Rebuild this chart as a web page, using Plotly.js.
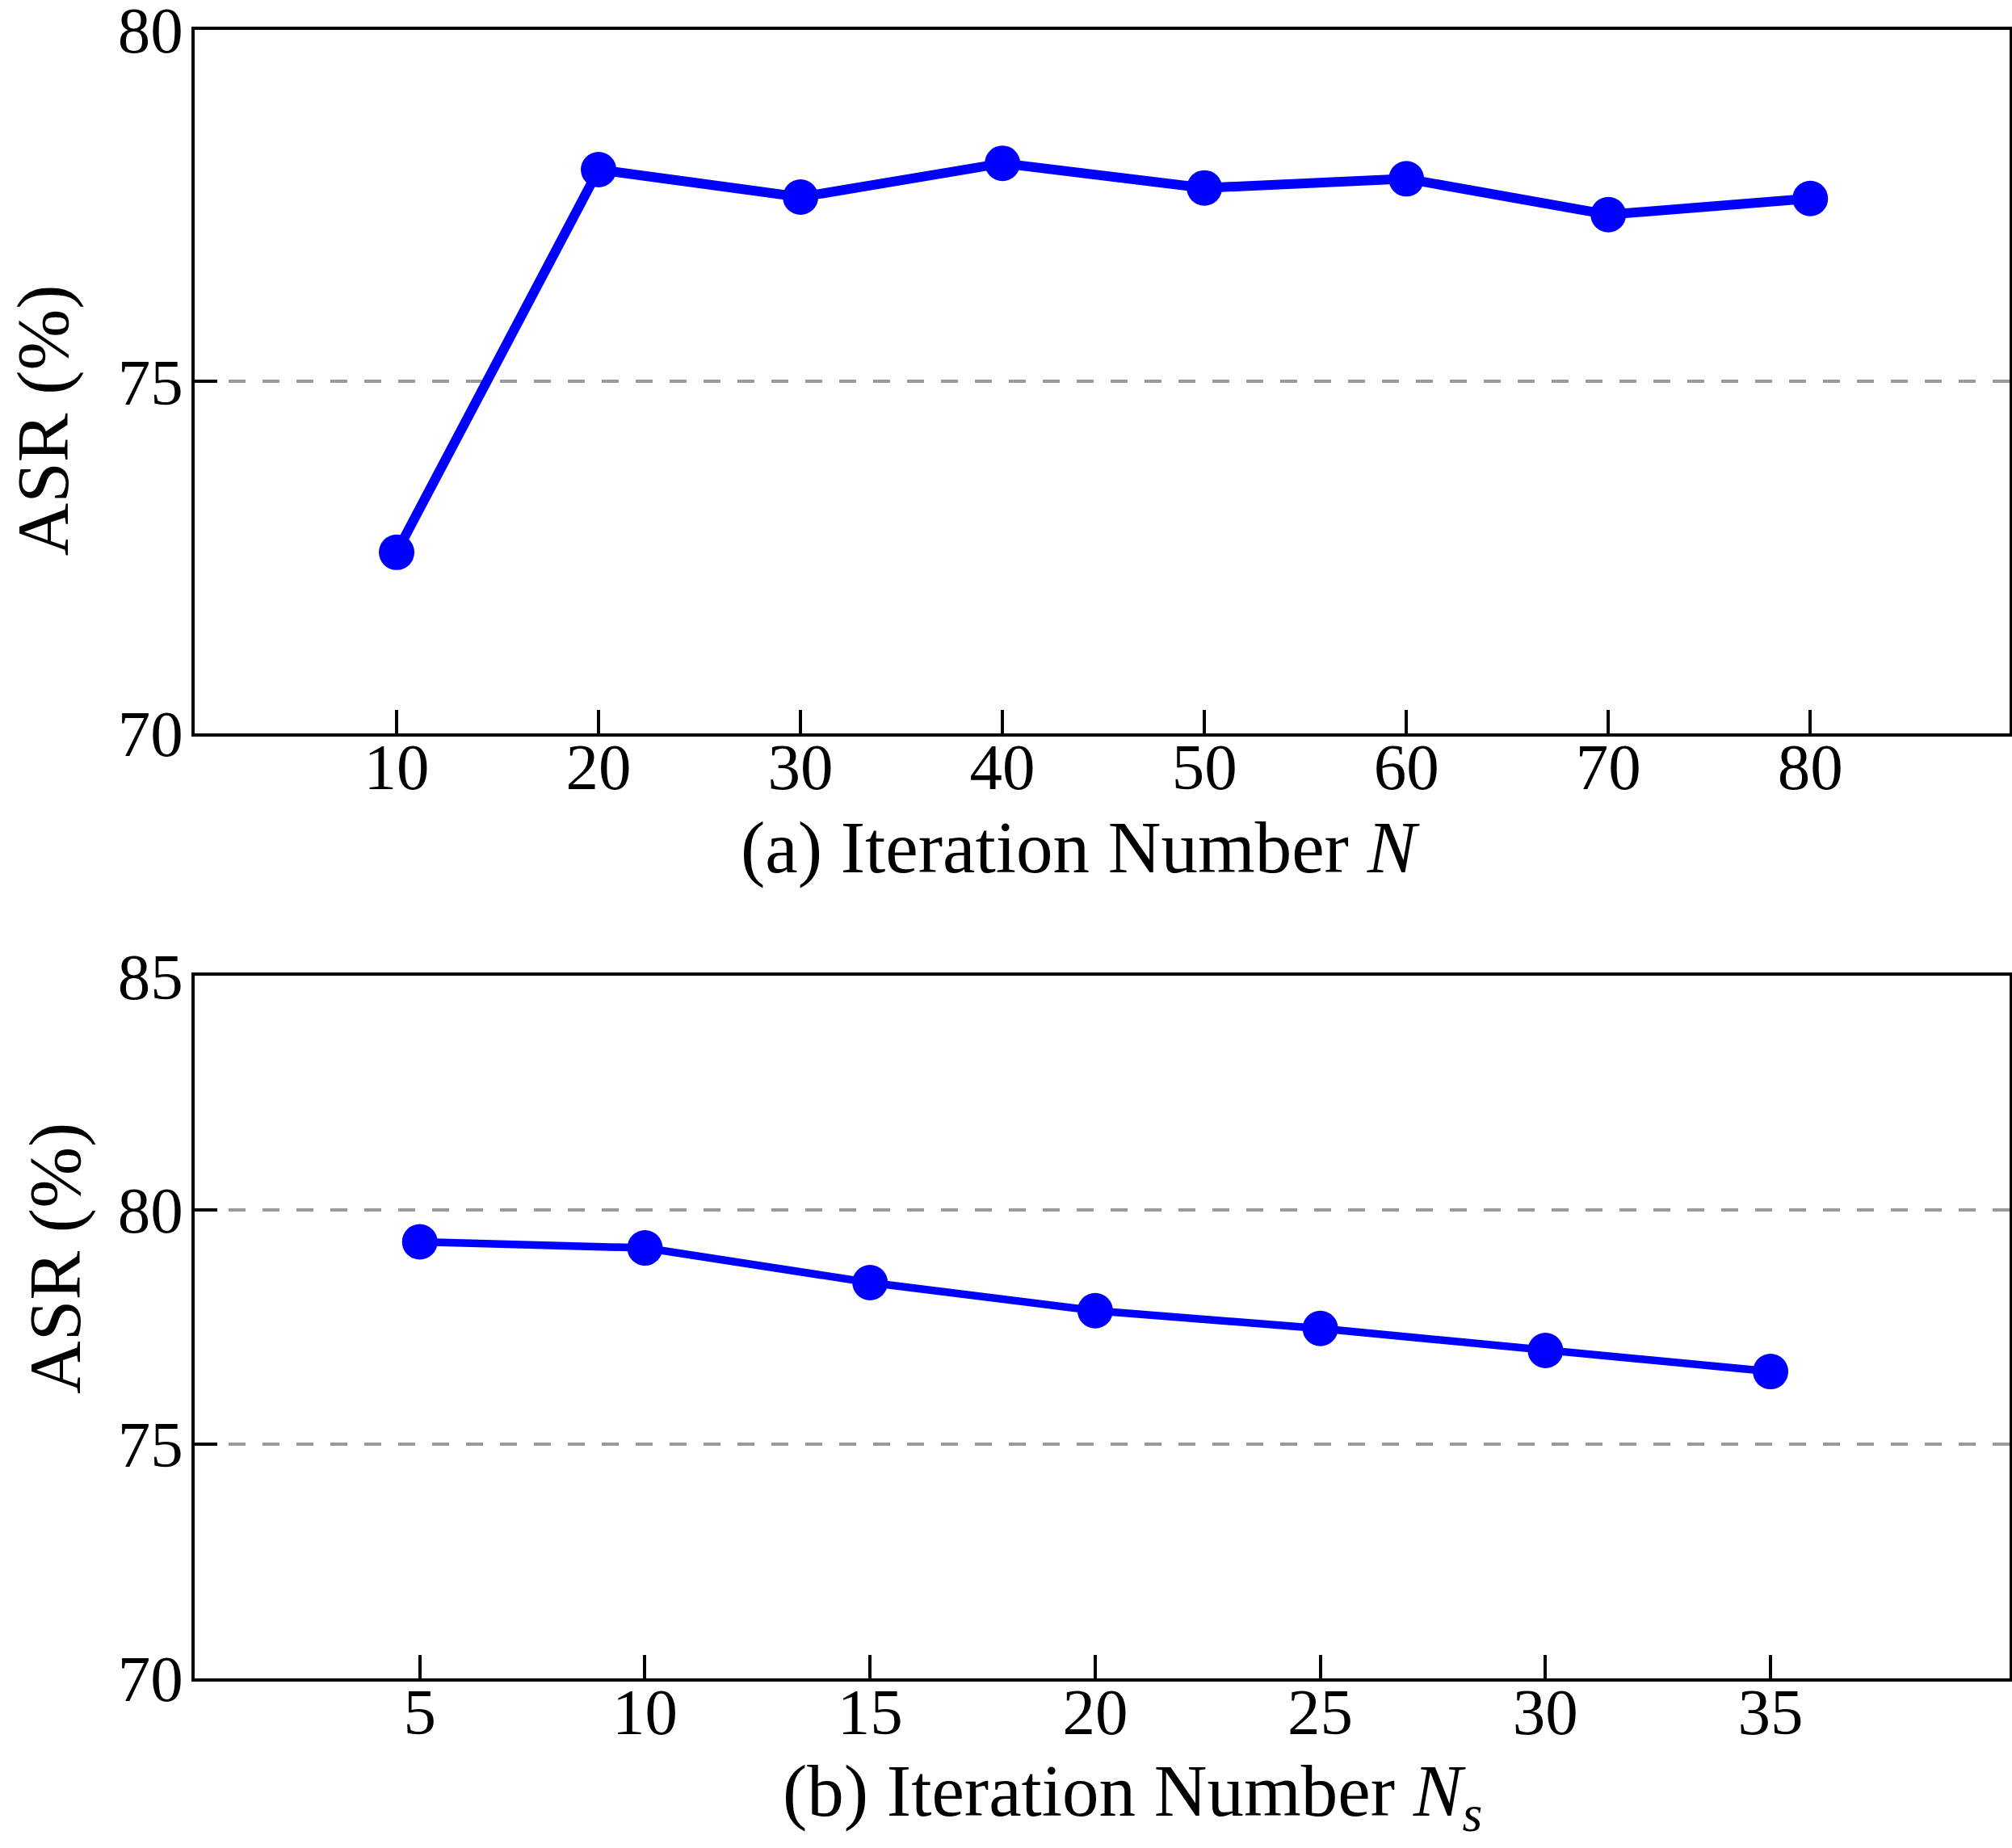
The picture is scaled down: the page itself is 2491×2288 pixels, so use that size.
<!DOCTYPE html>
<html>
<head>
<meta charset="utf-8">
<script src="https://cdn.plot.ly/plotly-3.0.1.min.js"></script>
<style>html,body{margin:0;padding:0;background:#fff;}</style>
</head>
<body>
<div id="chart" style="width:2491px;height:2288px;"></div>
<script>
// ---- Data ----
const iterN = [10, 20, 30, 40, 50, 60, 70, 80];
const asrN = [72.57, 78.01, 77.62, 78.10, 77.75, 77.88, 77.37, 77.60];
const iterNs = [5, 10, 15, 20, 25, 30, 35];
const asrNs = [79.32, 79.19, 78.45, 77.85, 77.47, 77.00, 76.55];
const yTicksTop = [70, 75, 80];
const yTicksBottom = [70, 75, 80, 85];
const titleTopX = '(a) Iteration Number <i>N</i>';
const titleBottomX = '(b) Iteration Number <i>N<sub>s</sub></i>';
const titleY = 'ASR (%)';

const FONT = 'Liberation Serif, Times New Roman, serif';
const BLUE = '#0000ff';

const traces = [
  {
    x: iterN, y: asrN, xaxis: 'x', yaxis: 'y', type: 'scatter', mode: 'lines+markers',
    line: {color: BLUE, width: 12},
    marker: {color: BLUE, size: 44},
    cliponaxis: false
  },
  {
    x: iterNs, y: asrNs, xaxis: 'x2', yaxis: 'y2', type: 'scatter', mode: 'lines+markers',
    line: {color: BLUE, width: 9.5},
    marker: {color: BLUE, size: 44},
    cliponaxis: false
  }
];

function xAxis(domain, range, vals, anchor) {
  return {
    domain: domain, range: range, anchor: anchor,
    tickmode: 'array', tickvals: vals,
    ticks: 'inside', ticklen: 29, tickwidth: 4, tickcolor: '#000',
    showline: true, mirror: true, linewidth: 4, linecolor: '#000',
    showgrid: false, zeroline: false,
    tickfont: {family: FONT, size: 81, color: '#000'},
    ticklabelstandoff: -32,
    ticklabeloverflow: 'allow'
  };
}
function yAxis(domain, range, vals, anchor) {
  return {
    domain: domain, range: range, anchor: anchor,
    tickmode: 'array', tickvals: vals,
    ticks: 'inside', ticklen: 28, tickwidth: 4, tickcolor: '#000',
    showline: true, mirror: true, linewidth: 4, linecolor: '#000',
    showgrid: true, gridcolor: '#9a9a9a', gridwidth: 3.5, griddash: '21px,21px',
    zeroline: false,
    tickfont: {family: FONT, size: 81, color: '#000'},
    ticklabelstandoff: -6,
    ticklabeloverflow: 'allow'
  };
}

const layout = {
  width: 2491, height: 2288,
  margin: {l: 0, r: 0, t: 0, b: 0, pad: 0},
  paper_bgcolor: '#fff', plot_bgcolor: '#fff',
  showlegend: false,
  font: {family: FONT, color: '#000'},
  xaxis: xAxis([0.09675, 0.9986], [0, 89.85], iterN, 'y'),
  yaxis: yAxis([0.60328, 0.98396], [70, 80], yTicksTop, 'x'),
  xaxis2: xAxis([0.09675, 0.9986], [0, 40.3], iterNs, 'y2'),
  yaxis2: yAxis([0.09191, 0.47189], [70, 85], yTicksBottom, 'x2'),
  annotations: [
    {text: titleTopX, xref: 'paper', yref: 'paper', x: 0.537, y: 0.5415,
     xanchor: 'center', yanchor: 'middle', showarrow: false,
     font: {family: FONT, size: 91, color: '#000'}},
    {text: titleBottomX, xref: 'paper', yref: 'paper', x: 0.5628, y: 0.028,
     xanchor: 'center', yanchor: 'middle', showarrow: false,
     font: {family: FONT, size: 91, color: '#000'}},
    {text: titleY, xref: 'paper', yref: 'paper', x: 0.0215, y: 0.7723,
     xanchor: 'center', yanchor: 'middle', textangle: -90, showarrow: false,
     font: {family: FONT, size: 91, color: '#000'}},
    {text: titleY, xref: 'paper', yref: 'paper', x: 0.0277, y: 0.3191,
     xanchor: 'center', yanchor: 'middle', textangle: -90, showarrow: false,
     font: {family: FONT, size: 91, color: '#000'}}
  ]
};

Plotly.newPlot('chart', traces, layout, {displayModeBar: false, staticPlot: true});
</script>
</body>
</html>
